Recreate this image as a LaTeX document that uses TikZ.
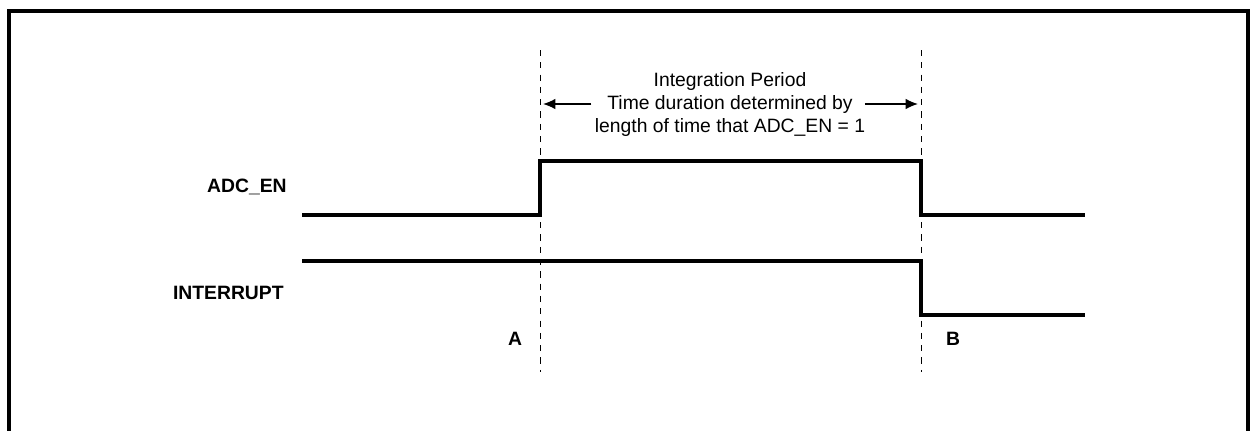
\documentclass[tikz,border=0pt]{standalone}
\usepackage{fontspec}
\setmainfont{Liberation Sans}
\usetikzlibrary{arrows.meta}
\begin{document}
\begin{tikzpicture}[x=0.02cm,y=-0.02cm,
  signal/.style={line width=2.4pt,line join=miter},
  marker/.style={line width=0.5pt,dash pattern=on 3.5pt off 3.5pt},
  frame/.style={line width=2pt},
  siglabel/.style={font=\fontsize{11}{13}\selectfont\bfseries,anchor=east,inner sep=0pt},
  ptlabel/.style={font=\fontsize{11}{13}\selectfont\bfseries,inner sep=0pt},
  note/.style={font=\fontsize{11}{13}\selectfont,align=center,inner sep=1pt},
  dimarrow/.style={-{Latex[length=7pt,width=6pt]},line width=0.8pt}]
\useasboundingbox (0,0) rectangle (1251,430);
% frame (open at bottom)
\draw[frame] (9,432) -- (9,11) -- (1248,11) -- (1248,432);
% marker lines
\coordinate (Atop) at (540,50);
\coordinate (Abot) at (540,372);
\coordinate (Btop) at (921,50);
\coordinate (Bbot) at (921,372);
\draw[marker] (Atop) -- (Abot);
\draw[marker] (Btop) -- (Bbot);
% ADC_EN
\coordinate (e0) at (302,215);
\coordinate (e1) at (540,215);
\coordinate (e2) at (540,161);
\coordinate (e3) at (921,161);
\coordinate (e4) at (921,215);
\coordinate (e5) at (1085,215);
\draw[signal] (e0) -- (e1) -- (e2) -- (e3) -- (e4) -- (e5);
% INTERRUPT
\coordinate (i0) at (302,261);
\coordinate (i1) at (921,261);
\coordinate (i2) at (921,315);
\coordinate (i3) at (1085,315);
\draw[signal] (i0) -- (i1) -- (i2) -- (i3);
% labels
\node[siglabel] (adc) at (287,187) {ADC\_EN};
\node[siglabel] (int) at (284,293) {INTERRUPT};
\node[ptlabel] (A) at (515,339) {A};
\node[ptlabel] (B) at (953,339) {B};
% note
\node[note] (n1) at (730,81) {Integration Period};
\node[note] (n2) at (730,104) {Time duration determined by};
\node[note] (n3) at (730,127) {length of time that ADC\_EN = 1};
\coordinate (la) at (543,104);
\coordinate (ra) at (918,104);
\draw[dimarrow] (n2.west) ++(-14,0) coordinate (ls) -- (la);
\draw[dimarrow] (n2.east) ++(10,0) coordinate (rs) -- (ra);
\end{tikzpicture}
\end{document}
